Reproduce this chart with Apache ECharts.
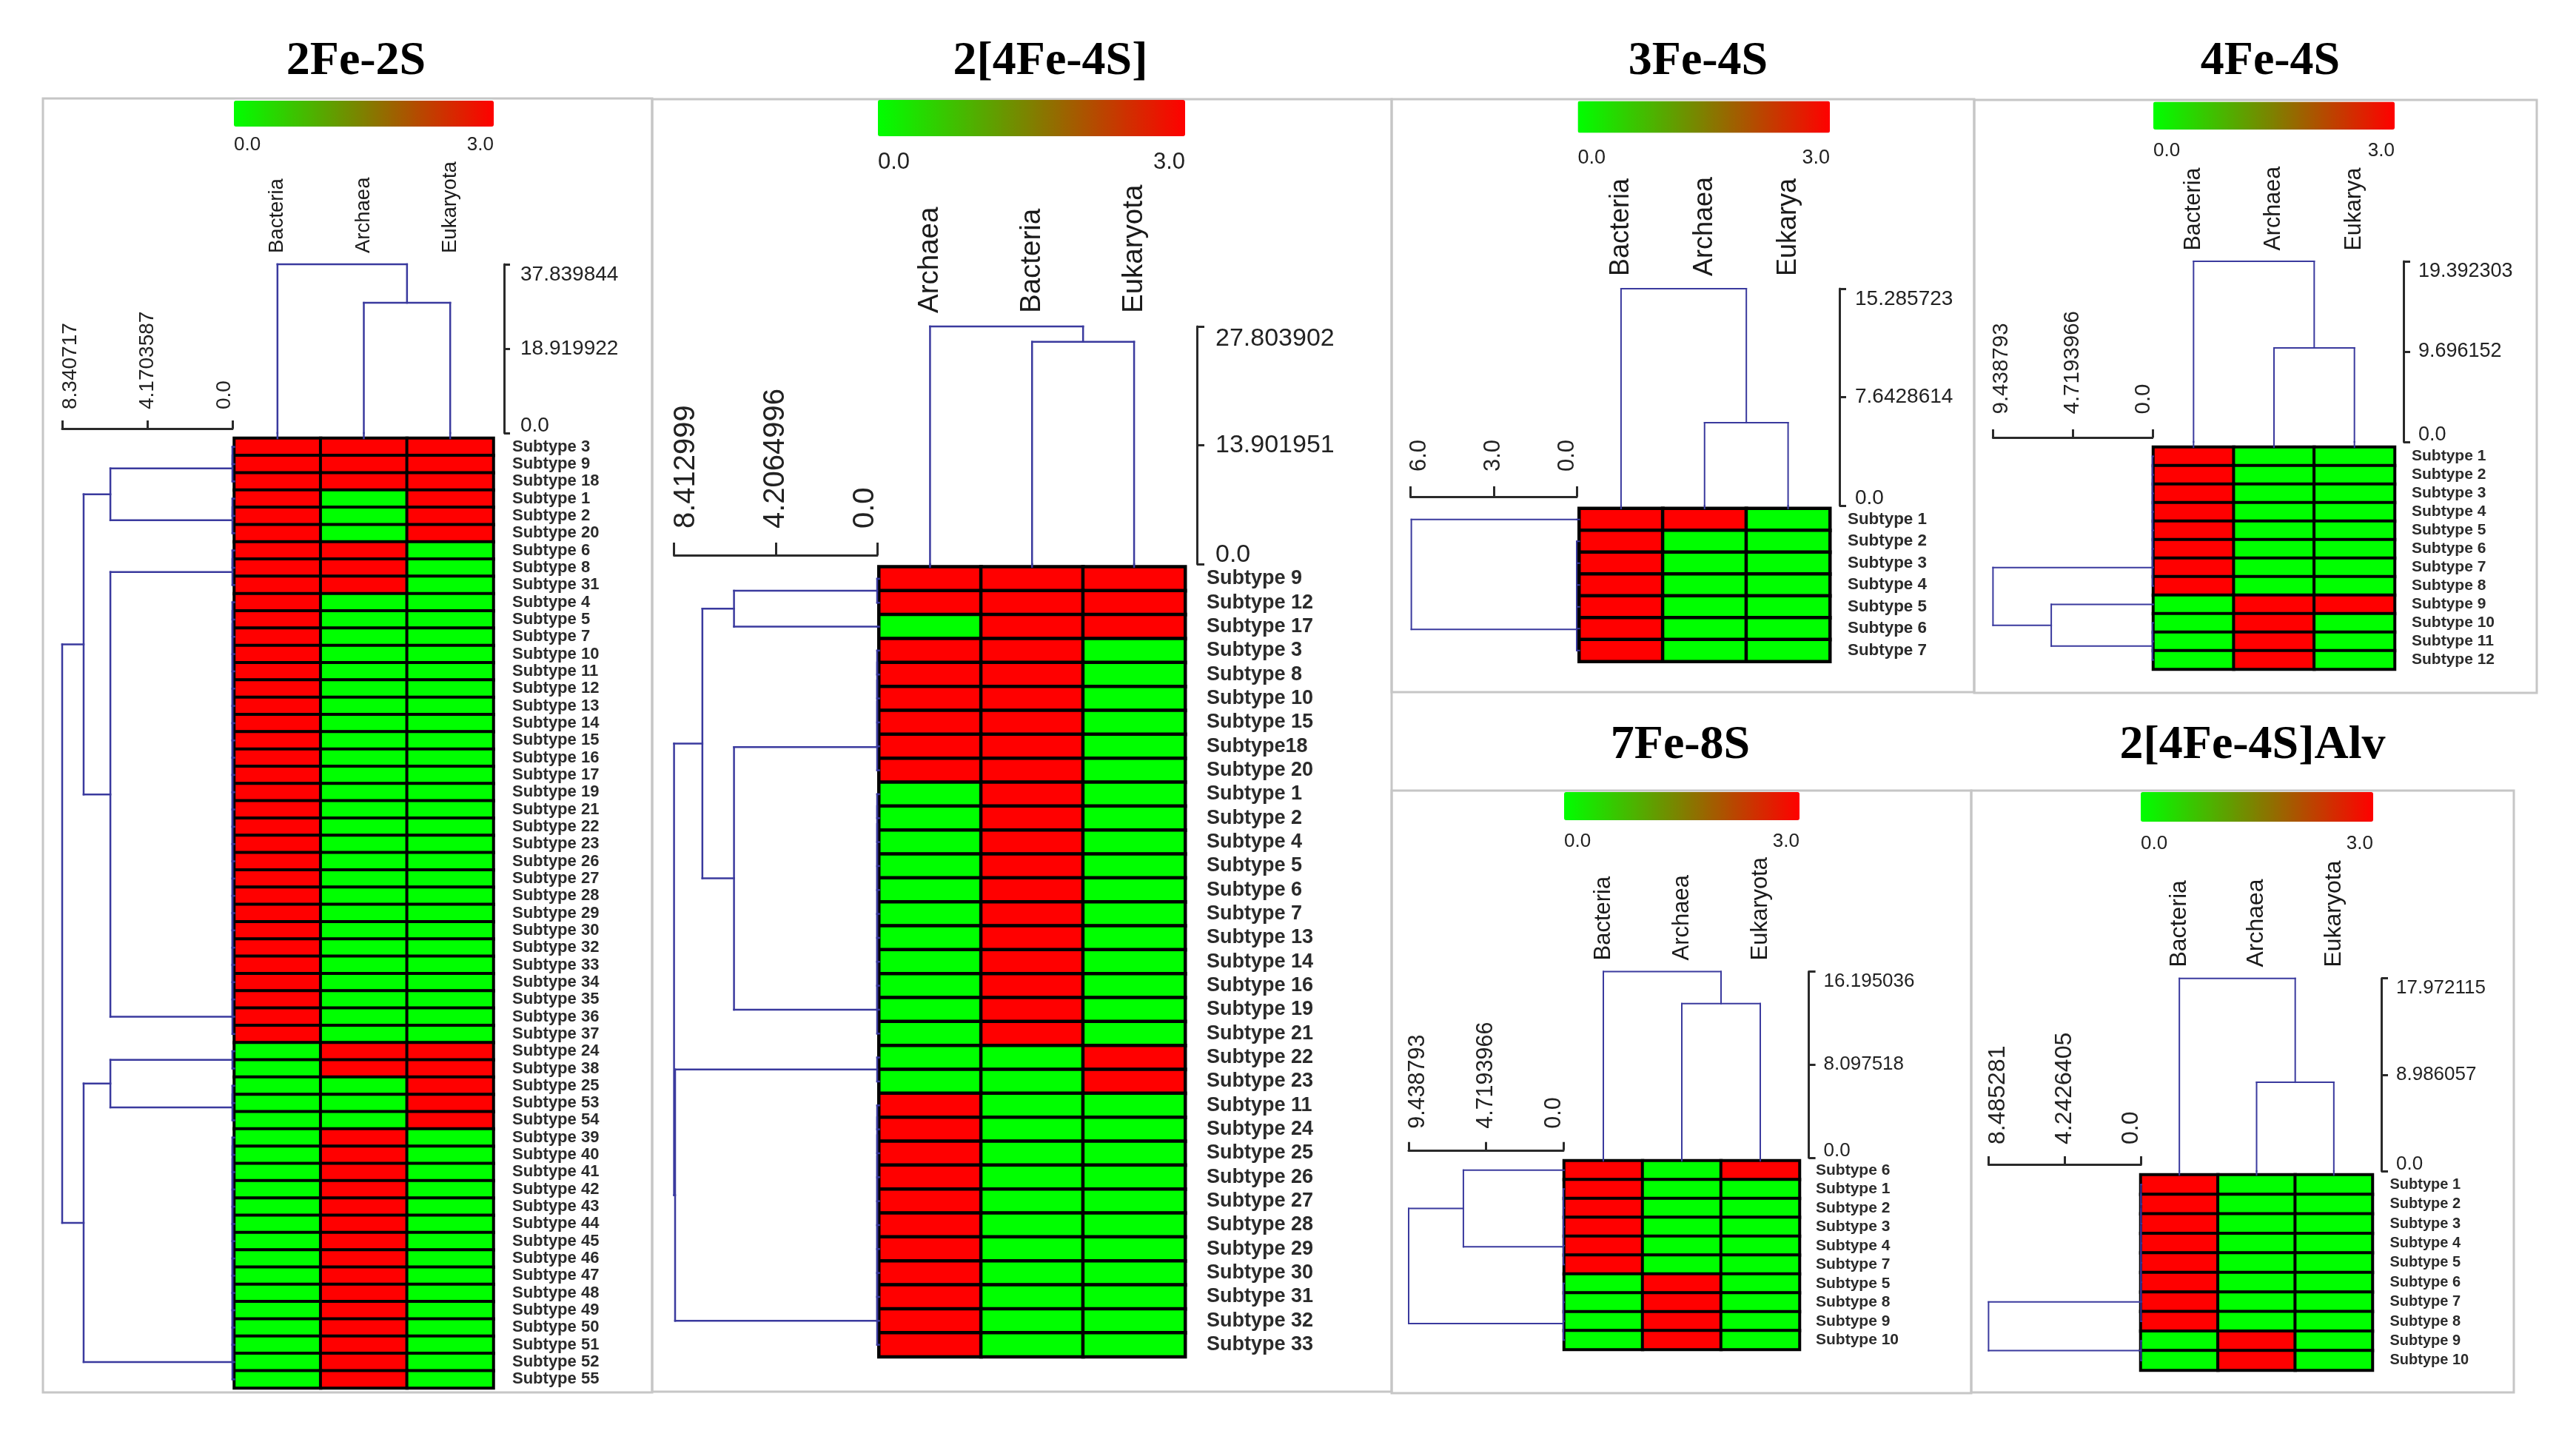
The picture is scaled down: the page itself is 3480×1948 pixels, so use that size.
<!DOCTYPE html>
<html><head><meta charset="utf-8">
<script src="https://cdn.jsdelivr.net/npm/echarts@6/dist/echarts.min.js"></script>
<style>html,body{margin:0;padding:0;background:#fff}#c{width:3480px;height:1948px}</style>
</head><body><div id="c"></div>
<script>
// ======================= DATA =======================
const panelTitles = ['2Fe-2S', '2[4Fe-4S]', '3Fe-4S', '4Fe-4S', '7Fe-8S', '2[4Fe-4S]Alv'];
const colorbarTicks = ['0.0', '3.0'];
const colorbarRange = [0, 3];

// ---- Panel 1: 2Fe-2S ----
const p1Columns = ['Bacteria', 'Archaea', 'Eukaryota'];
const p1Rows = ['Subtype 3','Subtype 9','Subtype 18','Subtype 1','Subtype 2','Subtype 20','Subtype 6','Subtype 8','Subtype 31',
  'Subtype 4','Subtype 5','Subtype 7','Subtype 10','Subtype 11','Subtype 12','Subtype 13','Subtype 14','Subtype 15','Subtype 16',
  'Subtype 17','Subtype 19','Subtype 21','Subtype 22','Subtype 23','Subtype 26','Subtype 27','Subtype 28','Subtype 29','Subtype 30',
  'Subtype 32','Subtype 33','Subtype 34','Subtype 35','Subtype 36','Subtype 37','Subtype 24','Subtype 38','Subtype 25','Subtype 53',
  'Subtype 54','Subtype 39','Subtype 40','Subtype 41','Subtype 42','Subtype 43','Subtype 44','Subtype 45','Subtype 46','Subtype 47',
  'Subtype 48','Subtype 49','Subtype 50','Subtype 51','Subtype 52','Subtype 55'];
const p1Values = [
  [3,3,3],[3,3,3],[3,3,3],
  [3,0,3],[3,0,3],[3,0,3],
  [3,3,0],[3,3,0],[3,3,0],
  [3,0,0],[3,0,0],[3,0,0],[3,0,0],[3,0,0],[3,0,0],[3,0,0],[3,0,0],[3,0,0],[3,0,0],[3,0,0],[3,0,0],[3,0,0],
  [3,0,0],[3,0,0],[3,0,0],[3,0,0],[3,0,0],[3,0,0],[3,0,0],[3,0,0],[3,0,0],[3,0,0],[3,0,0],[3,0,0],[3,0,0],
  [0,3,3],[0,3,3],
  [0,0,3],[0,0,3],[0,0,3],
  [0,3,0],[0,3,0],[0,3,0],[0,3,0],[0,3,0],[0,3,0],[0,3,0],[0,3,0],[0,3,0],[0,3,0],[0,3,0],[0,3,0],[0,3,0],[0,3,0],[0,3,0]
];
// tree: number = leaf row, plain list = identical leaves joined at 0, {h,l,r} = merge at height h
const p1RowTree = {h: 8.340717,
  l: {h: 7.29, l: {h: 5.98, l: [0,1,2], r: [3,4,5]},
               r: {h: 5.98, l: [6,7,8], r: [9,10,11,12,13,14,15,16,17,18,19,20,21,22,23,24,25,26,27,28,29,30,31,32,33,34]}},
  r: {h: 7.29, l: {h: 5.98, l: [35,36], r: [37,38,39]},
               r: [40,41,42,43,44,45,46,47,48,49,50,51,52,53,54]}};
const p1ColTree = {h: 37.839844, l: 0, r: {h: 29.2, l: 1, r: 2}};
const p1RowTicks = ['0.0', '4.1703587', '8.340717'];
const p1ColTicks = ['0.0', '18.919922', '37.839844'];

// ---- Panel 2: 2[4Fe-4S] ----
const p2Columns = ['Archaea', 'Bacteria', 'Eukaryota'];
const p2Rows = ['Subtype 9','Subtype 12','Subtype 17','Subtype 3','Subtype 8','Subtype 10','Subtype 15','Subtype18','Subtype 20',
  'Subtype 1','Subtype 2','Subtype 4','Subtype 5','Subtype 6','Subtype 7','Subtype 13','Subtype 14','Subtype 16','Subtype 19',
  'Subtype 21','Subtype 22','Subtype 23','Subtype 11','Subtype 24','Subtype 25','Subtype 26','Subtype 27','Subtype 28',
  'Subtype 29','Subtype 30','Subtype 31','Subtype 32','Subtype 33'];
const p2Values = [
  [3,3,3],[3,3,3],
  [0,3,3],
  [3,3,0],[3,3,0],[3,3,0],[3,3,0],[3,3,0],[3,3,0],
  [0,3,0],[0,3,0],[0,3,0],[0,3,0],[0,3,0],[0,3,0],[0,3,0],[0,3,0],[0,3,0],[0,3,0],[0,3,0],
  [0,0,3],[0,0,3],
  [3,0,0],[3,0,0],[3,0,0],[3,0,0],[3,0,0],[3,0,0],[3,0,0],[3,0,0],[3,0,0],[3,0,0],[3,0,0]
];
const p2RowTree = {h: 8.412999,
  l: {h: 7.24, l: {h: 5.93, l: [0,1], r: 2},
               r: {h: 5.93, l: [3,4,5,6,7,8], r: [9,10,11,12,13,14,15,16,17,18,19]}},
  r: {h: 8.37, l: [20,21], r: [22,23,24,25,26,27,28,29,30,31,32]}};
const p2ColTree = {h: 27.803902, l: 0, r: {h: 26.0, l: 1, r: 2}};
const p2RowTicks = ['0.0', '4.2064996', '8.412999'];
const p2ColTicks = ['0.0', '13.901951', '27.803902'];

// ---- Panel 3: 3Fe-4S ----
const p3Columns = ['Bacteria', 'Archaea', 'Eukarya'];
const p3Rows = ['Subtype 1','Subtype 2','Subtype 3','Subtype 4','Subtype 5','Subtype 6','Subtype 7'];
const p3Values = [[3,3,0],[3,0,0],[3,0,0],[3,0,0],[3,0,0],[3,0,0],[3,0,0]];
const p3RowTree = {h: 5.97, l: 0, r: [1,2,3,4,5,6]};
const p3ColTree = {h: 15.285723, l: 0, r: {h: 5.84, l: 1, r: 2}};
const p3RowTicks = ['0.0', '3.0', '6.0'];
const p3ColTicks = ['0.0', '7.6428614', '15.285723'];

// ---- Panel 4: 4Fe-4S ----
const p4Columns = ['Bacteria', 'Archaea', 'Eukarya'];
const p4Rows = ['Subtype 1','Subtype 2','Subtype 3','Subtype 4','Subtype 5','Subtype 6','Subtype 7','Subtype 8',
  'Subtype 9','Subtype 10','Subtype 11','Subtype 12'];
const p4Values = [[3,0,0],[3,0,0],[3,0,0],[3,0,0],[3,0,0],[3,0,0],[3,0,0],[3,0,0],[0,3,3],[0,3,0],[0,3,0],[0,3,0]];
const p4RowTree = {h: 9.438793, l: [0,1,2,3,4,5,6,7], r: {h: 5.99, l: 8, r: [9,10,11]}};
const p4ColTree = {h: 19.392303, l: 0, r: {h: 10.1, l: 1, r: 2}};
const p4RowTicks = ['0.0', '4.7193966', '9.438793'];
const p4ColTicks = ['0.0', '9.696152', '19.392303'];

// ---- Panel 5: 7Fe-8S ----
const p5Columns = ['Bacteria', 'Archaea', 'Eukaryota'];
const p5Rows = ['Subtype 6','Subtype 1','Subtype 2','Subtype 3','Subtype 4','Subtype 7','Subtype 5','Subtype 8','Subtype 9','Subtype 10'];
const p5Values = [[3,0,3],[3,0,0],[3,0,0],[3,0,0],[3,0,0],[3,0,0],[0,3,0],[0,3,0],[0,3,0],[0,3,0]];
const p5RowTree = {h: 9.438793, l: {h: 6.10, l: 0, r: [1,2,3,4,5]}, r: [6,7,8,9]};
const p5ColTree = {h: 16.195036, l: 0, r: {h: 13.42, l: 1, r: 2}};
const p5RowTicks = ['0.0', '4.7193966', '9.438793'];
const p5ColTicks = ['0.0', '8.097518', '16.195036'];

// ---- Panel 6: 2[4Fe-4S]Alv ----
const p6Columns = ['Bacteria', 'Archaea', 'Eukaryota'];
const p6Rows = ['Subtype 1','Subtype 2','Subtype 3','Subtype 4','Subtype 5','Subtype 6','Subtype 7','Subtype 8','Subtype 9','Subtype 10'];
const p6Values = [[3,0,0],[3,0,0],[3,0,0],[3,0,0],[3,0,0],[3,0,0],[3,0,0],[3,0,0],[0,3,0],[0,3,0]];
const p6RowTree = {h: 8.485281, l: [0,1,2,3,4,5,6,7], r: [8,9]};
const p6ColTree = {h: 17.972115, l: 0, r: {h: 8.28, l: 1, r: 2}};
const p6RowTicks = ['0.0', '4.2426405', '8.485281'];
const p6ColTicks = ['0.0', '8.986057', '17.972115'];

// ======================= LAYOUT / STYLE =======================
const SANS = "'Liberation Sans', Arial, sans-serif";
const SERIF = "'Liberation Serif', 'Times New Roman', serif";
const HEAT_COLORS = ['#00ff00', '#ff0000'];
const TREE_COLOR = '#3a3a9e';
const AXIS_COLOR = '#2a2a2a';
// ECharts flips label rotation on top-positioned axes; -90 gives bottom-to-top reading text there
const TOP_AXIS_ROTATE = -90;

const layout = [
  {box:[58,133,881,1881], title:[481,83], bar:[316,136,351,35], barLabelY:196, barFont:26,
   heat:[316.5,592,350,1283], colLabelStart:342, colFont:27.5, rowFont:22, rowGap:25.5, border:4, treeW:2.5,
   colDen:{top:357, zero:585, axisX:681, tick:8, margin:22, font:28, ext:7},
   rowDen:{left:84, zero:314, axisY:579, tick:11, margin:26, font:28, ext:2.5}},
  {box:[881,134,1880,1880], title:[1419,83], bar:[1186,135,415,49], barLabelY:219, barFont:31,
   heat:[1187.5,765.7,413.5,1067.1], colLabelStart:423, colFont:38.5, rowFont:27, rowGap:29, border:4.5, treeW:2.5,
   colDen:{top:441, zero:762, axisX:1617, tick:10, margin:25, font:34, ext:3.7},
   rowDen:{left:910.6, zero:1185, axisY:750, tick:17, margin:36, font:40, ext:2.5}},
  {box:[1880,134,2667,935], title:[2294,83], bar:[2131.5,136.4,340.5,43], barLabelY:213.6, barFont:27,
   heat:[2133.5,687,338.5,206.5], colLabelStart:373, colFont:36, rowFont:22.4, rowGap:24, border:4.5, treeW:2,
   colDen:{top:390, zero:683, axisX:2485, tick:9, margin:21, font:28, ext:4},
   rowDen:{left:1905.5, zero:2130, axisY:671, tick:14, margin:34, font:31, ext:3.5}},
  {box:[2667,135,3427,936], title:[3067,83], bar:[2909,137.6,326,37.4], barLabelY:203.5, barFont:26,
   heat:[2909,604,326,300], colLabelStart:338.5, colFont:30.5, rowFont:21, rowGap:23, border:4, treeW:2,
   colDen:{top:353, zero:597, axisX:3247, tick:9, margin:20, font:27, ext:7},
   rowDen:{left:2692.4, zero:2907.8, axisY:591, tick:11, margin:31.5, font:29.5, ext:1.2}},
  {box:[1880,1068,2663,1882], title:[2270,1007], bar:[2113,1070,318,38], barLabelY:1137, barFont:26,
   heat:[2113,1568,318,255], colLabelStart:1297.5, colFont:31, rowFont:21, rowGap:22, border:4, treeW:2,
   colDen:{top:1312.6, zero:1564, axisX:2443.6, tick:9, margin:20, font:26, ext:4},
   rowDen:{left:1903, zero:2112, axisY:1553.8, tick:11, margin:29, font:30.5, ext:1}},
  {box:[2663,1068,3396,1881], title:[3043,1007], bar:[2892,1070,314,40], barLabelY:1140, barFont:26,
   heat:[2892,1587,313,264], colLabelStart:1306.6, colFont:32, rowFont:20, rowGap:23.5, border:4, treeW:2,
   colDen:{top:1321.7, zero:1582, axisX:3217, tick:9, margin:20, font:26, ext:5},
   rowDen:{left:2686.4, zero:2892.3, axisY:1573, tick:11, margin:27, font:32, ext:0.8}}
];

const panels = [
  {title:panelTitles[0], columns:p1Columns, rows:p1Rows, values:p1Values, rowTree:p1RowTree, colTree:p1ColTree, rowTicks:p1RowTicks, colTicks:p1ColTicks},
  {title:panelTitles[1], columns:p2Columns, rows:p2Rows, values:p2Values, rowTree:p2RowTree, colTree:p2ColTree, rowTicks:p2RowTicks, colTicks:p2ColTicks},
  {title:panelTitles[2], columns:p3Columns, rows:p3Rows, values:p3Values, rowTree:p3RowTree, colTree:p3ColTree, rowTicks:p3RowTicks, colTicks:p3ColTicks},
  {title:panelTitles[3], columns:p4Columns, rows:p4Rows, values:p4Values, rowTree:p4RowTree, colTree:p4ColTree, rowTicks:p4RowTicks, colTicks:p4ColTicks},
  {title:panelTitles[4], columns:p5Columns, rows:p5Rows, values:p5Values, rowTree:p5RowTree, colTree:p5ColTree, rowTicks:p5RowTicks, colTicks:p5ColTicks},
  {title:panelTitles[5], columns:p6Columns, rows:p6Rows, values:p6Values, rowTree:p6RowTree, colTree:p6ColTree, rowTicks:p6RowTicks, colTicks:p6ColTicks}
];

// ======================= TREE LAYOUT (data space: height h, leaf position p) =======================
function joinNodes(a, b, h, segs) {
  segs.push([a.h, a.p, h, a.p, 0]);
  segs.push([h, a.p, h, b.p, 0]);
  segs.push([b.h, b.p, h, b.p, 0]);
  return {p: (a.p + b.p) / 2, h: h};
}
function layoutTree(node, segs) {
  if (typeof node === 'number') { segs.push([0, node, 0, node, 1]); return {p: node, h: 0}; }
  if (Array.isArray(node)) {
    let cur = layoutTree(node[0], segs);
    for (let k = 1; k < node.length; k++) cur = joinNodes(cur, layoutTree(node[k], segs), 0, segs);
    return cur;
  }
  const a = layoutTree(node.l, segs), b = layoutTree(node.r, segs);
  return joinNodes(a, b, node.h, segs);
}
// bracket labels: end labels are pushed inward along the bracket (as in the reference)
function bracketLabel(labels, vals) {
  return function (v) {
    let best = 0;
    vals.forEach((x, i) => { if (Math.abs(x - v) < Math.abs(vals[best] - v)) best = i; });
    if (best === 0) return '{lo|' + labels[best] + '}';
    if (best === vals.length - 1) return '{hi|' + labels[best] + '}';
    return labels[best];
  };
}
function bracketRich(font, hiShift, loShift) {
  return {
    hi: {fontSize: font, fontFamily: SANS, color: '#222', padding: [2 * hiShift, 0, 0, 0]},
    lo: {fontSize: font, fontFamily: SANS, color: '#222', padding: [0, 0, 2 * loShift, 0]}
  };
}
function makeRender(orient, ext, width) {
  return function (params, api) {
    const a = api.coord([api.value(0), api.value(1)]);
    let b = api.coord([api.value(2), api.value(3)]);
    if (api.value(4) === 1) b = orient === 'row' ? [a[0] + ext, a[1]] : [a[0], a[1] + ext];
    return {type: 'line', shape: {x1: a[0], y1: a[1], x2: b[0], y2: b[1]},
            style: {stroke: TREE_COLOR, lineWidth: width, lineCap: 'square'}};
  };
}

// ======================= OPTION =======================
const option = {animation: false, backgroundColor: '#ffffff', textStyle: {fontFamily: SANS},
  grid: [], xAxis: [], yAxis: [], series: [], visualMap: [], graphic: []};

panels.forEach((P, i) => {
  const L = layout[i];
  const n = P.rows.length, m = P.columns.length;

  option.graphic.push({type: 'rect', silent: true, z: -10,
    shape: {x: L.box[0], y: L.box[1], width: L.box[2] - L.box[0], height: L.box[3] - L.box[1]},
    style: {fill: 'none', stroke: '#c6c6c6', lineWidth: 3}});
  option.graphic.push({type: 'text', x: L.title[0], y: L.title[1], silent: true,
    style: {text: P.title, fontFamily: SERIF, fontWeight: 'bold', fontSize: 64, fill: '#000',
            align: 'center', verticalAlign: 'middle', textAlign: 'center', textVerticalAlign: 'middle'}});
  option.graphic.push({type: 'text', x: L.bar[0], y: L.barLabelY, silent: true,
    style: {text: colorbarTicks[0], fontFamily: SANS, fontSize: L.barFont, fill: '#222',
            align: 'left', verticalAlign: 'middle', textAlign: 'left', textVerticalAlign: 'middle'}});
  option.graphic.push({type: 'text', x: L.bar[0] + L.bar[2], y: L.barLabelY, silent: true,
    style: {text: colorbarTicks[1], fontFamily: SANS, fontSize: L.barFont, fill: '#222',
            align: 'right', verticalAlign: 'middle', textAlign: 'right', textVerticalAlign: 'middle'}});

  // ---- heatmap ----
  const gH = option.grid.length;
  option.grid.push({left: L.heat[0], top: L.heat[1], width: L.heat[2], height: L.heat[3], containLabel: false, outerBoundsMode: 'none'});
  const xH = option.xAxis.length;
  option.xAxis.push({type: 'category', gridIndex: gH, data: P.columns, position: 'top',
    offset: L.heat[1] - L.colLabelStart, axisLine: {show: false}, axisTick: {show: false}, splitLine: {show: false},
    axisLabel: {rotate: TOP_AXIS_ROTATE, margin: 0, interval: 0, fontSize: L.colFont, color: '#1a1a1a', fontFamily: SANS}});
  const yH = option.yAxis.length;
  option.yAxis.push({type: 'category', gridIndex: gH, data: P.rows, inverse: true, position: 'right',
    axisLine: {show: false}, axisTick: {show: false}, splitLine: {show: false},
    axisLabel: {margin: L.rowGap, interval: 0, fontSize: L.rowFont, fontWeight: 'bold', color: '#2b2b2b', fontFamily: SANS}});
  const cells = [];
  P.values.forEach((row, r) => row.forEach((v, c) => cells.push([c, r, v])));
  const sH = option.series.length;
  option.series.push({type: 'heatmap', xAxisIndex: xH, yAxisIndex: yH, data: cells, silent: true,
    itemStyle: {borderColor: '#000', borderWidth: L.border}, emphasis: {disabled: true}});
  option.visualMap.push({type: 'continuous', min: colorbarRange[0], max: colorbarRange[1], seriesIndex: sH,
    orient: 'horizontal', left: L.bar[0], top: L.bar[1], itemHeight: L.bar[2], itemWidth: L.bar[3],
    calculable: false, hoverLink: false, text: null, padding: 0, inRange: {color: HEAT_COLORS}});

  // ---- column dendrogram ----
  const colVals = P.colTicks.map(Number);
  const gC = option.grid.length;
  option.grid.push({left: L.heat[0], top: L.colDen.top, width: L.heat[2], height: L.colDen.zero - L.colDen.top, containLabel: false, outerBoundsMode: 'none'});
  const xC = option.xAxis.length;
  option.xAxis.push({type: 'value', gridIndex: gC, min: -0.5, max: m - 0.5, show: false});
  const yC = option.yAxis.length;
  option.yAxis.push({type: 'value', gridIndex: gC, min: 0, max: colVals[colVals.length - 1], position: 'right',
    offset: L.colDen.axisX - (L.heat[0] + L.heat[2]), splitLine: {show: false},
    axisLine: {show: true, onZero: false, lineStyle: {color: AXIS_COLOR, width: 3}},
    axisTick: {show: true, customValues: colVals, length: L.colDen.tick, lineStyle: {color: AXIS_COLOR, width: 3}},
    axisLabel: {customValues: colVals, formatter: bracketLabel(P.colTicks, colVals), margin: L.colDen.margin,
                fontSize: L.colDen.font, color: '#222', fontFamily: SANS,
                rich: bracketRich(L.colDen.font, L.colDen.font * 0.5, L.colDen.font * 0.35)}});
  const colSegs = [];
  layoutTree(P.colTree, colSegs);
  option.series.push({type: 'custom', coordinateSystem: 'cartesian2d', xAxisIndex: xC, yAxisIndex: yC, silent: true, clip: false,
    data: colSegs.map(s => [s[1], s[0], s[3], s[2], s[4]]), renderItem: makeRender('col', L.colDen.ext, L.treeW)});

  // ---- row dendrogram ----
  const rowVals = P.rowTicks.map(Number);
  const gR = option.grid.length;
  option.grid.push({left: L.rowDen.left, top: L.heat[1], width: L.rowDen.zero - L.rowDen.left, height: L.heat[3], containLabel: false, outerBoundsMode: 'none'});
  const xR = option.xAxis.length;
  option.xAxis.push({type: 'value', gridIndex: gR, min: 0, max: rowVals[rowVals.length - 1], inverse: true, position: 'top',
    offset: L.heat[1] - L.rowDen.axisY, splitLine: {show: false},
    axisLine: {show: true, onZero: false, lineStyle: {color: AXIS_COLOR, width: 3}},
    axisTick: {show: true, customValues: rowVals, length: L.rowDen.tick, lineStyle: {color: AXIS_COLOR, width: 3}},
    axisLabel: {customValues: rowVals, formatter: bracketLabel(P.rowTicks, rowVals), rotate: TOP_AXIS_ROTATE, margin: L.rowDen.margin,
                fontSize: L.rowDen.font, color: '#222', fontFamily: SANS,
                rich: bracketRich(L.rowDen.font, L.rowDen.font * 0.4, L.rowDen.font * 0.4)}});
  const yR = option.yAxis.length;
  option.yAxis.push({type: 'value', gridIndex: gR, min: -0.5, max: n - 0.5, inverse: true, show: false});
  const rowSegs = [];
  layoutTree(P.rowTree, rowSegs);
  option.series.push({type: 'custom', coordinateSystem: 'cartesian2d', xAxisIndex: xR, yAxisIndex: yR, silent: true, clip: false,
    data: rowSegs, renderItem: makeRender('row', L.rowDen.ext, L.treeW)});
});

const chart = echarts.init(document.getElementById('c'), null, {renderer: 'canvas'});
chart.setOption(option);
</script>
</body></html>
